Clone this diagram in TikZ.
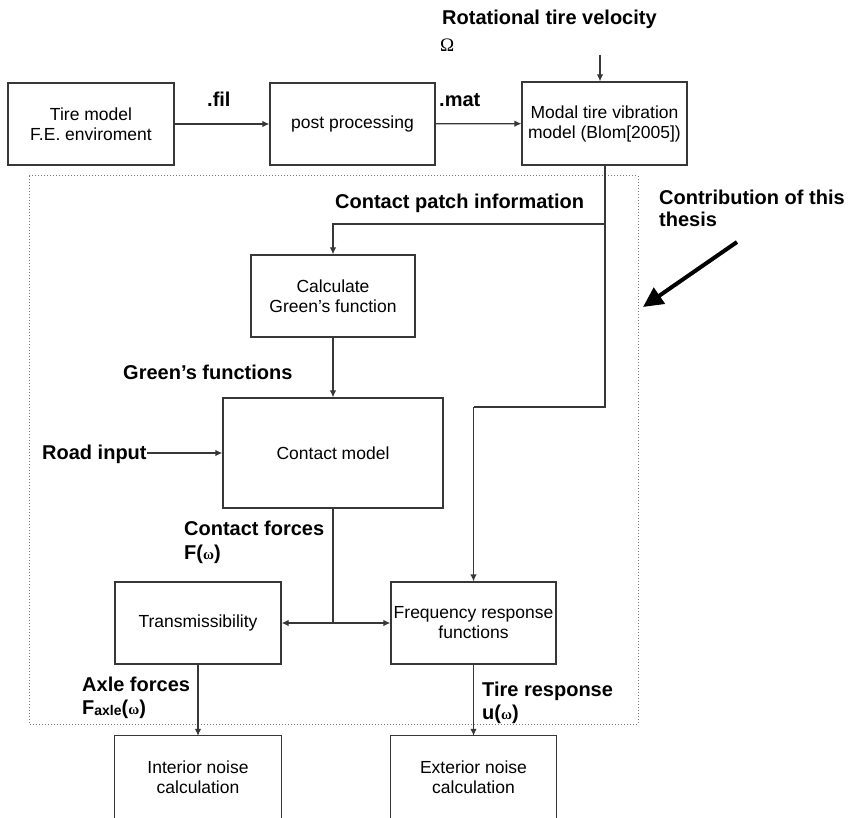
\documentclass[tikz,border=0pt]{standalone}
\usepackage{fontspec}
\setmainfont{Liberation Sans}
\newfontfamily\symfont{Liberation Serif}
\usetikzlibrary{arrows.meta}
\definecolor{linegray}{RGB}{55,55,55}
\definecolor{dotgray}{RGB}{120,120,120}
\begin{document}
\begin{tikzpicture}[x=1pt,y=-1pt,
 box/.style={draw=linegray,line width=1.2pt,inner sep=0pt,align=center,font=\fontsize{17.5}{20}\selectfont},
 openbox/.style={inner sep=0pt,align=center,font=\fontsize{17.5}{20}\selectfont},
 lbl/.style={anchor=base west,inner sep=0pt,font=\fontsize{20}{22}\selectfont\bfseries},
 conn/.style={draw=linegray,line width=1.2pt},
 arr/.style={conn,-{Latex[length=7pt,width=6.5pt]}},
 bigarr/.style={draw=black,line width=4pt,-{Triangle[length=20pt,width=19pt]}},
 frame/.style={draw=dotgray,line width=1pt,dotted},
]
\newcommand{\om}{{\symfont\fontsize{15}{15}\selectfont ω}}
\useasboundingbox (0,0) rectangle (852,818);

% dotted frame
\draw[frame] (29,176) rectangle (638,724);

% boxes
\node[box,minimum width=166pt,minimum height=82pt] (tire) at (91,124) {Tire model\\F.E. enviroment};
\node[box,minimum width=165pt,minimum height=82pt] (post) at (352.5,124) {post processing};
\node[box,minimum width=165pt,minimum height=83pt] (modal) at (604.5,123.5) {Modal tire vibration\\model (Blom[2005])};
\node[box,minimum width=164pt,minimum height=82pt] (green) at (333,296) {Calculate\\Green's function};
\node[box,minimum width=220pt,minimum height=110pt] (contact) at (333,453) {Contact model};
\node[box,minimum width=166pt,minimum height=82pt] (trans) at (198,623) {Transmissibility};
\node[box,minimum width=165pt,minimum height=82pt] (frf) at (473.5,623) {Frequency response\\functions};
\node[openbox,minimum width=166pt,minimum height=82pt] (interior) at (198,777) {Interior noise\\calculation};
\node[openbox,minimum width=165pt,minimum height=82pt] (exterior) at (473.5,777) {Exterior noise\\calculation};
\draw[conn] (interior.south west) -- (interior.north west) -- (interior.north east) -- (interior.south east);
\draw[conn] (exterior.south west) -- (exterior.north west) -- (exterior.north east) -- (exterior.south east);

% labels
\node[lbl] (rot) at (442,25) {Rotational tire velocity};
\node[anchor=base west,inner sep=0pt,font=\symfont\fontsize{19}{19}\selectfont] (omega) at (440,52) {Ω};
\node[lbl] (fil) at (207,107) {.fil};
\node[lbl] (mat) at (439,107) {.mat};
\node[lbl] (cpi) at (335,209) {Contact patch information};
\node[lbl] (gf) at (123,380) {Green's functions};
\node[lbl] (road) at (42,460) {Road input};
\node[lbl] (cf) at (184,535) {Contact forces};
\node[lbl] (fw) at (184,559) {F(\om)};
\node[lbl] (af) at (82,691) {Axle forces};
\node[lbl] (faxle) at (82,714) {F\raisebox{-1pt}{\fontsize{14}{14}\selectfont axle}(\om)};
\node[lbl] (tr) at (482,696) {Tire response};
\node[lbl] (uw) at (482,719) {u(\om)};
\node[lbl] (contrib1) at (659,205) {Contribution of this};
\node[lbl] (contrib2) at (659,227) {thesis};

% coordinates
\coordinate (omin) at (600,55);
\coordinate (cp) at (605,224);
\coordinate (bend) at (605,407);
\coordinate (split) at (333,623);
\coordinate (ctail) at (737,242);
\coordinate (ctip) at (643,307);

% connectors
\draw[arr] (tire) -- (post);
\draw[arr] (post) -- (modal);
\draw[arr] (omin) -- (omin |- modal.north);
\draw[conn] (modal.south -| bend) -- (bend) -- (bend -| frf.north);
\draw[arr] (bend -| frf.north) -- (frf.north);
\draw[arr] (cp) -| (green.north);
\draw[arr] (green) -- (contact);
\draw[arr] (road.east |- contact.west) -- (contact.west);
\draw[conn] (contact.south) -- (split);
\draw[arr] (split) -- (split -| trans.east);
\draw[arr] (split) -- (split -| frf.west);
\draw[arr] (trans.south) -- (interior.north);
\draw[arr] (frf.south) -- (exterior.north);
\draw[bigarr] (ctail) -- (ctip);
\end{tikzpicture}
\end{document}
